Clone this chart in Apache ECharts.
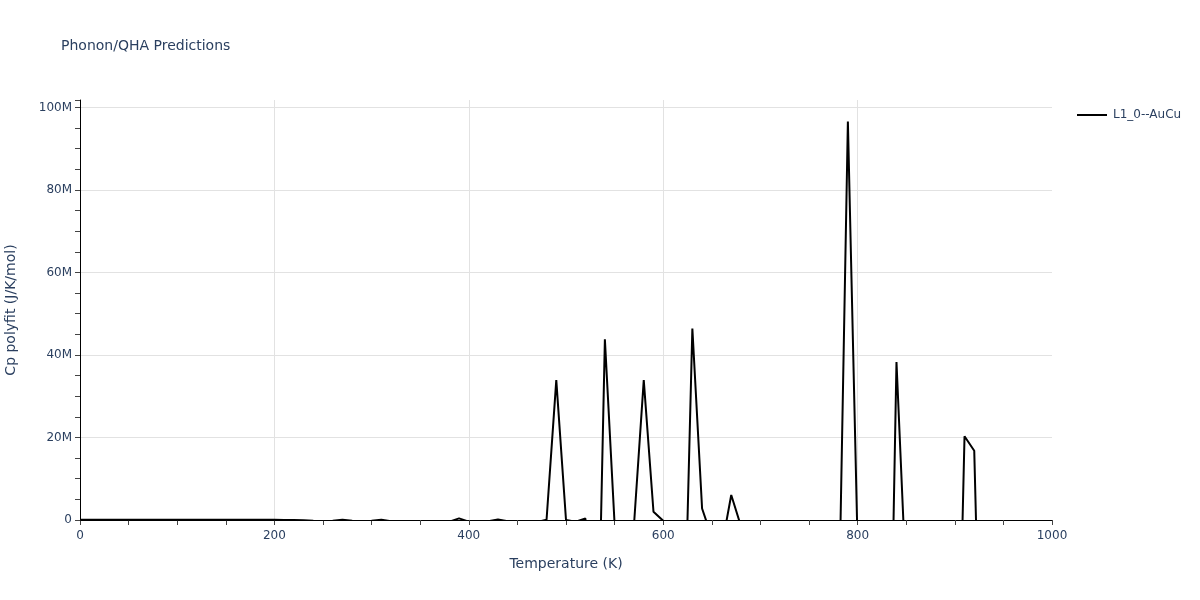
<!DOCTYPE html>
<html>
<head>
<meta charset="utf-8">
<script src="https://cdn.jsdelivr.net/npm/echarts@6/dist/echarts.min.js"></script>
<style>html,body{margin:0;padding:0;background:#fff}#c{width:1200px;height:600px}</style>
</head>
<body>
<div id="c"></div>
<script>
const chartTitle = 'Phonon/QHA Predictions';
const seriesName = 'L1_0--AuCu';
const xTitle = 'Temperature (K)';
const yTitle = 'Cp polyfit (J/K/mol)';

const temperatures = [
  0,10,20,30,40,50,60,70,80,90,
  100,110,120,130,140,150,160,170,180,190,
  200,210,220,230,240,250,260,270,280,290,
  300,310,320,330,340,350,360,370,380,390,
  400,410,420,430,440,450,460,470,480,490,
  500,510,520,530,540,550,560,570,580,590,
  600,610,620,630,640,650,660,670,680,690,
  700,710,720,730,740,750,760,770,780,790,
  800,810,820,830,840,850,860,870,880,890,
  900,910,920,930,940,950,960,970,980,990,
  1000
];

// Cp values in millions of J/K/mol (negative values fall below the visible range)
const cpMillions = [
  0.05,0.05,0.05,0.05,0.05,0.05,0.05,0.05,0.05,0.05,
  0.05,0.05,0.05,0.05,0.05,0.05,0.05,0.05,0.05,0.05,
  0.04,0.03,0.0,-0.05,-0.2,-0.3,-0.2,0.08,-0.2,-0.3,
  -0.2,0.08,-0.3,-0.5,-0.5,-0.5,-0.5,-0.5,-0.4,0.4,
  -0.4,-0.5,-0.3,0.1,-0.3,-0.5,-0.5,-0.5,0.05,33.9,
  0.0,-0.4,0.35,-66,43.8,-1.0,-30,-1.0,33.9,2.0,
  -0.2,-20,-46,46.4,2.8,-4.2,-6.8,6.05,-1.5,-10,
  -10,-10,-10,-10,-10,-10,-10,-10,-32,96.6,
  -6,-30,-50,-89,38.3,-16,-40,-40,-40,-40,
  -81,20.3,16.8,-76,-40,-40,-40,-40,-40,-40,
  -40
];

const MILLION = 1e6;
const points = temperatures.map((t, i) => [t, cpMillions[i] * MILLION]);

const textColor = '#2a3f5f';
const gridColor = '#e2e2e2';
const fontFamily = '"DejaVu Sans", Verdana, sans-serif';

const chart = echarts.init(document.getElementById('c'), null, {renderer: 'canvas'});
chart.setOption({
  backgroundColor: '#fff',
  animation: false,
  textStyle: {fontFamily: fontFamily},
  title: {
    text: chartTitle,
    left: 56, top: 34,
    textStyle: {fontSize: 14, fontWeight: 'normal', color: textColor, fontFamily: fontFamily}
  },
  legend: {
    left: 1072, top: 104,
    itemWidth: 30, itemHeight: 2, itemGap: 5,
    icon: 'rect',
    textStyle: {fontSize: 12, color: textColor, fontFamily: fontFamily, padding: [0, 0, 0, 1]},
    data: [seriesName]
  },
  grid: {left: 80, right: 148, top: 100, bottom: 80, containLabel: false, outerBoundsMode: 'none'},
  xAxis: {
    type: 'value',
    min: 0, max: 1000, interval: 200,
    name: xTitle, nameLocation: 'middle', nameGap: 37,
    nameTextStyle: {fontSize: 14, color: textColor, fontFamily: fontFamily},
    axisLine: {show: true, onZero: false, lineStyle: {color: '#000', width: 1}},
    axisTick: {show: true, inside: false, length: 5, lineStyle: {color: '#444'}},
    minorTick: {show: true, splitNumber: 4, length: 5, lineStyle: {color: '#444'}},
    axisLabel: {fontSize: 12, color: textColor, margin: 10, fontFamily: fontFamily,
      formatter: v => String(v)},
    splitLine: {show: true, showMinLine: false, showMaxLine: false, lineStyle: {color: gridColor, width: 1}},
    minorSplitLine: {show: false}
  },
  yAxis: {
    type: 'value',
    min: 0, max: 101.8e6, interval: 20e6,
    name: yTitle, nameLocation: 'middle', nameGap: 62,
    nameTextStyle: {fontSize: 14, color: textColor, fontFamily: fontFamily},
    axisLine: {show: true, onZero: false, lineStyle: {color: '#000', width: 1}},
    axisTick: {show: true, inside: false, length: 5, lineStyle: {color: '#444'}},
    minorTick: {show: true, splitNumber: 4, length: 5, lineStyle: {color: '#444'}},
    axisLabel: {
      fontSize: 12, color: textColor, margin: 8, fontFamily: fontFamily,
      formatter: v => v === 0 ? '0' : (v / MILLION) + 'M'
    },
    splitLine: {show: true, showMinLine: false, showMaxLine: false, lineStyle: {color: gridColor, width: 1}},
    minorSplitLine: {show: false}
  },
  series: [{
    name: seriesName,
    type: 'line',
    data: points,
    symbol: 'none',
    clip: true,
    lineStyle: {color: '#000', width: 2},
    itemStyle: {color: '#000'}
  }]
});
</script>
</body>
</html>
